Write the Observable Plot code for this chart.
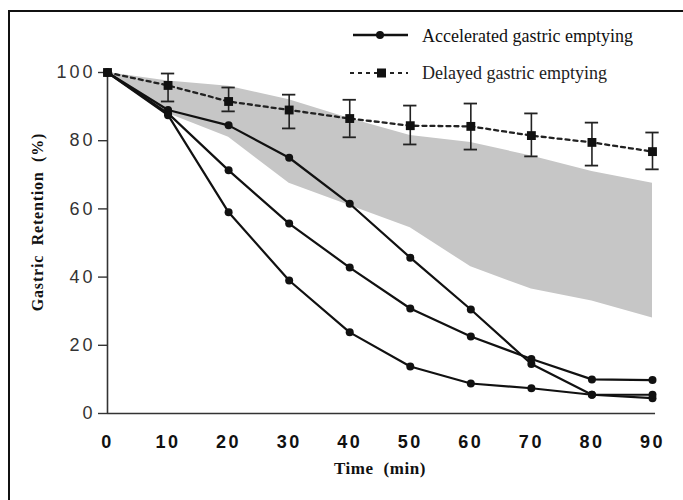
<!DOCTYPE html>
<html>
<head>
<meta charset="utf-8">
<script src="https://cdn.jsdelivr.net/npm/d3@7"></script>
<script src="https://cdn.jsdelivr.net/npm/@observablehq/plot@0.6"></script>
<style>
  html, body { margin: 0; padding: 0; background: #fff; }
  #wrap { position: relative; width: 683px; height: 500px; overflow: hidden; }
  #frame { position: absolute; left: 8px; top: 10px; width: 700px; height: 520px;
           border-left: 2px solid #111; border-top: 2px solid #111; box-sizing: border-box; }
  #legend { position: absolute; left: 0; top: 0; }
  #chart { position: absolute; left: 0; top: 0; }
  #chart svg { background: transparent; }
  [aria-label="x-axis tick label"] text { letter-spacing: 2.5px; }
  [aria-label="y-axis tick label"] text { letter-spacing: 3px; }
  .ytitle text { letter-spacing: 0.8px; }
  .xtitle text { letter-spacing: 0.6px; }
</style>
</head>
<body>
<div id="wrap">
  <div id="chart"></div>
  <div id="frame"></div>
  <svg id="legend" width="683" height="100">
    <line x1="353" x2="408" y1="35" y2="35" stroke="#111" stroke-width="2.4"/>
    <circle cx="380" cy="35" r="4" fill="#111"/>
    <text x="422" y="42" font-family="Liberation Serif" font-size="18" fill="#111" style="-webkit-text-stroke:0.5px #111">Accelerated gastric emptying</text>
    <line x1="350" x2="408" y1="73" y2="73" stroke="#222" stroke-width="2.2" stroke-dasharray="4,4"/>
    <rect x="377" y="68.5" width="9" height="9" fill="#111"/>
    <text x="422" y="79" font-family="Liberation Serif" font-size="18" fill="#222" style="-webkit-text-stroke:0.2px #222">Delayed gastric emptying</text>
  </svg>
</div>
<script>
// Time points (min)
const times = [0, 10, 20, 30, 40, 50, 60, 70, 80, 90];

// Accelerated gastric emptying: three individual patients (% retention)
const accelA = [100, 89, 84.5, 75, 61.5, 45.7, 30.5, 14.5, 5.5, 4.5];
const accelB = [100, 88, 71.3, 55.7, 42.8, 30.8, 22.6, 16, 10, 9.8];
const accelC = [100, 87.5, 59, 39, 23.8, 13.8, 8.8, 7.4, 5.5, 5.5];

// Delayed gastric emptying: mean with error bars
const delayedMean = [100, 96.2, 91.5, 89, 86.5, 84.4, 84.2, 81.5, 79.5, 76.8];
const delayedHi   = [100, 99.7, 95.6, 93.5, 92, 90.3, 90.9, 88, 85.3, 82.4];
const delayedLo   = [100, 91.5, 88.6, 83.6, 81, 78.9, 77.4, 75.4, 72.7, 71.6];

// Normal range (shaded band)
const normalHi = [100, 97.5, 96, 92, 86.5, 81.5, 79.5, 75.5, 71, 67.5];
const normalLo = [100, 88, 81, 67.5, 61, 54.5, 43, 36.5, 33, 28];

// Tick labels
const xTicks = [0, 10, 20, 30, 40, 50, 60, 70, 80, 90];
const yTicks = [0, 20, 40, 60, 80, 100];

const band = times.map((t, i) => ({t, lo: normalLo[i], hi: normalHi[i]}));
const accel = [
  ...times.map((t, i) => ({t, v: accelA[i], s: "A"})),
  ...times.map((t, i) => ({t, v: accelB[i], s: "B"})),
  ...times.map((t, i) => ({t, v: accelC[i], s: "C"}))
];
const delayed = times.map((t, i) => ({t, m: delayedMean[i], hi: delayedHi[i], lo: delayedLo[i]}));
const bars = delayed.filter(d => d.t > 0);

const chart = Plot.plot({
  width: 683,
  height: 500,
  marginLeft: 107,
  marginRight: 31,
  marginTop: 72,
  marginBottom: 87,
  x: {domain: [0, 90]},
  y: {domain: [0, 100]},
  style: {background: "transparent"},
  marks: [
    Plot.areaY(band, {x: "t", y1: "lo", y2: "hi", fill: "#c6c6c6"}),
    Plot.ruleX([0], {y1: 0, y2: 100, stroke: "#333", strokeWidth: 1.6}),
    Plot.ruleY([0], {x1: 0, x2: 90.5, stroke: "#333", strokeWidth: 1.6}),
    Plot.axisY({ticks: yTicks, tickSize: 9, tickPadding: 3, fontSize: 18, fill: "#333",
                fontFamily: "Liberation Sans", stroke: "#333", strokeWidth: 1.4, label: null}),
    Plot.axisX({ticks: xTicks, tickSize: 0, tickPadding: 22, fontSize: 18, fontWeight: "bold",
                fontFamily: "Liberation Sans", fill: "#111", label: null}),
    Plot.text(["Time  (min)"], {frameAnchor: "bottom", dy: 60, fontFamily: "Liberation Serif",
                fontWeight: "bold", fontSize: 17, fill: "#111", className: "xtitle"}),
    Plot.text(["Gastric  Retention  (%)"], {frameAnchor: "left", textAnchor: "middle", dx: -70, dy: -21, rotate: -90,
                fontFamily: "Liberation Serif", fontWeight: "bold", fontSize: 16, fill: "#111", className: "ytitle"}),
    Plot.line(delayed, {x: "t", y: "m", stroke: "#222", strokeWidth: 2.3, strokeDasharray: "4,4"}),
    Plot.ruleX(bars, {x: "t", y1: "lo", y2: "hi", stroke: "#222", strokeWidth: 1.6}),
    Plot.ruleY(bars, {y: "hi", x1: d => d.t - 1.1, x2: d => d.t + 1.1, stroke: "#222", strokeWidth: 1.8}),
    Plot.ruleY(bars, {y: "lo", x1: d => d.t - 1.1, x2: d => d.t + 1.1, stroke: "#222", strokeWidth: 1.8}),
    Plot.dot(delayed, {x: "t", y: "m", symbol: "square", r: 5, fill: "#111"}),
    Plot.line(accel, {x: "t", y: "v", z: "s", stroke: "#111", strokeWidth: 2.2}),
    Plot.dot(accel, {x: "t", y: "v", r: 4, fill: "#111"})
  ]
});
document.getElementById("chart").appendChild(chart);
</script>
</body>
</html>
